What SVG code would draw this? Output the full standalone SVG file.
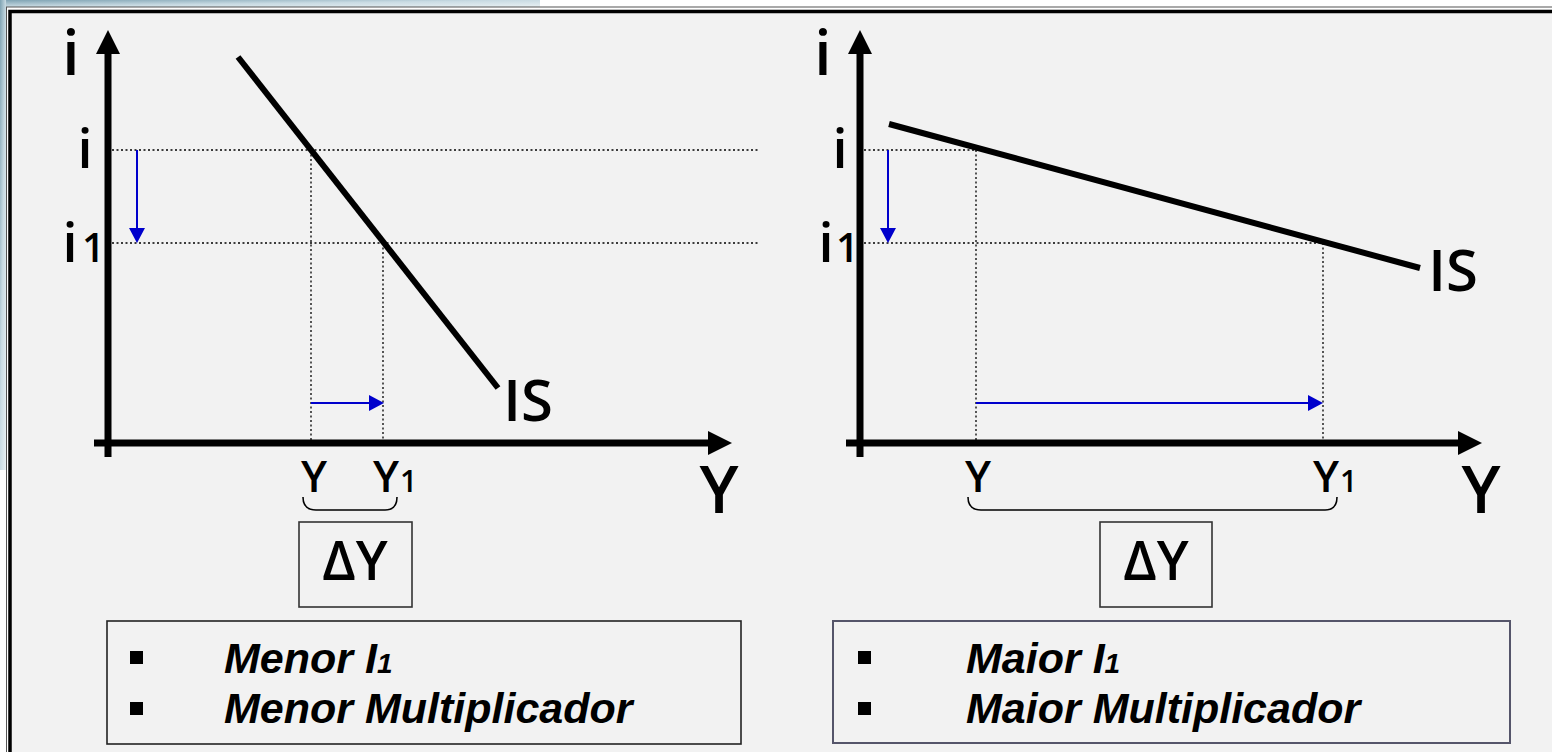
<svg xmlns="http://www.w3.org/2000/svg" width="1552" height="752" viewBox="0 0 1552 752">
<defs>
<linearGradient id="deco" x1="0" y1="0" x2="1" y2="1">
<stop offset="0" stop-color="#7fa3b3"/>
<stop offset="0.5" stop-color="#c9dbe3"/>
<stop offset="1" stop-color="#e8f0f3"/>
</linearGradient>
<style>
.lbl{font-family:"Open Sans","Liberation Sans",sans-serif;font-weight:600;fill:#000}
.bul{font-family:"Liberation Sans",Arial,sans-serif;font-weight:bold;font-style:italic;font-size:43px;fill:#000}
.axis{stroke:#000;stroke-width:7;fill:none}
.dot{stroke:#000;stroke-width:1.3;stroke-dasharray:2 2.5;fill:none}
.is{stroke:#000;stroke-width:6;fill:none}
.blue{stroke:#0000cc;stroke-width:2;fill:none}
.bhead{fill:#0000cc}
.brace{stroke:#000;stroke-width:1.6;fill:none}
.box{fill:none;stroke:#333;stroke-width:1.6}
</style>
</defs>
<rect x="0" y="0" width="1552" height="752" fill="#ffffff"/>
<rect x="0" y="0" width="540" height="7" fill="url(#deco)"/>
<rect x="0" y="0" width="6" height="470" fill="url(#deco)"/>
<rect x="6.5" y="7" width="1560" height="760" fill="none" stroke="#555" stroke-width="1"/>
<rect x="10" y="11.5" width="1560" height="760" fill="#f2f2f2" stroke="#000" stroke-width="3.5"/>

<g id="left-chart">
<line class="axis" x1="108" y1="457" x2="108" y2="50"/>
<polygon points="108,30 96,54 120,54"/>
<line class="axis" x1="94" y1="443" x2="712" y2="443"/>
<polygon points="732,443 708,431 708,455"/>
<text class="lbl" x="71" y="75" font-size="62" text-anchor="middle">i</text>
<text class="lbl" x="85" y="168" font-size="54" text-anchor="middle">i</text>
<text class="lbl" x="70" y="262" font-size="54" text-anchor="middle">i</text>
<text class="lbl" x="82" y="262" font-size="40">1</text>
<text class="lbl" x="719" y="513" font-size="66" text-anchor="middle">Y</text>
</g>

<g id="right-chart">
<line class="axis" x1="860" y1="457" x2="860" y2="50"/>
<polygon points="860,30 848,54 872,54"/>
<line class="axis" x1="846" y1="443" x2="1460" y2="443"/>
<polygon points="1482,443 1458,431 1458,455"/>
<text class="lbl" x="823" y="75" font-size="62" text-anchor="middle">i</text>
<text class="lbl" x="840" y="168" font-size="54" text-anchor="middle">i</text>
<text class="lbl" x="826" y="262" font-size="54" text-anchor="middle">i</text>
<text class="lbl" x="836" y="262" font-size="40">1</text>
<text class="lbl" x="1481" y="513" font-size="66" text-anchor="middle">Y</text>
</g>

<g id="connectors">
<line class="dot" x1="112" y1="150" x2="760" y2="150"/>
<line class="dot" x1="112" y1="243" x2="760" y2="243"/>
<line class="dot" x1="311" y1="150" x2="311" y2="440"/>
<line class="dot" x1="383" y1="243" x2="383" y2="440"/>
<line class="dot" x1="864" y1="150" x2="976" y2="150"/>
<line class="dot" x1="864" y1="243" x2="1323" y2="243"/>
<line class="dot" x1="976" y1="150" x2="976" y2="440"/>
<line class="dot" x1="1323" y1="243" x2="1323" y2="440"/>
<line class="blue" x1="137" y1="150" x2="137" y2="230"/>
<polygon class="bhead" points="137,243 129,228 145,228"/>
<line class="blue" x1="311" y1="403" x2="370" y2="403"/>
<polygon class="bhead" points="384,403 369,395 369,411"/>
<line class="blue" x1="888" y1="150" x2="888" y2="230"/>
<polygon class="bhead" points="888,243 880,228 896,228"/>
<line class="blue" x1="976" y1="403" x2="1310" y2="403"/>
<polygon class="bhead" points="1323,403 1308,395 1308,411"/>
</g>

<g id="is-left">
<line class="is" x1="238" y1="57" x2="498" y2="388"/>
<text class="lbl" x="528" y="421" font-size="58" text-anchor="middle">IS</text>
</g>
<g id="is-right">
<line class="is" x1="889" y1="124" x2="1420" y2="268"/>
<text class="lbl" x="1453" y="291" font-size="58" text-anchor="middle">IS</text>
</g>

<g id="left-y-labels">
<text class="lbl" x="314" y="492" font-size="44" text-anchor="middle">Y</text>
<text class="lbl" x="386" y="492" font-size="44" text-anchor="middle">Y</text>
<text class="lbl" x="400" y="492" font-size="30">1</text>
<path class="brace" d="M303,497 Q303,510 316,510 L385,510 Q397,510 397,497"/>
</g>
<g id="right-y-labels">
<text class="lbl" x="978" y="492" font-size="44" text-anchor="middle">Y</text>
<text class="lbl" x="1326" y="492" font-size="44" text-anchor="middle">Y</text>
<text class="lbl" x="1340" y="492" font-size="30">1</text>
<path class="brace" d="M968,497 Q968,510 981,510 L1325,510 Q1337,510 1337,497"/>
</g>

<g id="dy-left">
<rect class="box" x="299" y="522" width="113" height="85"/>
<text class="lbl" x="355" y="580" font-size="54" text-anchor="middle">ΔY</text>
</g>
<g id="dy-right">
<rect class="box" x="1100" y="522" width="112" height="85"/>
<text class="lbl" x="1156" y="580" font-size="54" text-anchor="middle">ΔY</text>
</g>

<g id="text-left">
<rect x="107" y="621" width="634" height="123" fill="none" stroke="#222" stroke-width="1.6"/>
<rect x="130" y="651" width="13" height="13" fill="#000"/>
<rect x="130" y="702" width="13" height="13" fill="#000"/>
<text class="bul" x="224" y="673">Menor I<tspan font-size="28">1</tspan></text>
<text class="bul" x="224" y="723">Menor Multiplicador</text>
</g>
<g id="text-right">
<rect x="833" y="621" width="677" height="122" fill="none" stroke="#55556a" stroke-width="2"/>
<rect x="858" y="651" width="13" height="13" fill="#000"/>
<rect x="858" y="702" width="13" height="13" fill="#000"/>
<text class="bul" x="966" y="673">Maior I<tspan font-size="28">1</tspan></text>
<text class="bul" x="966" y="723">Maior Multiplicador</text>
</g>
</svg>
